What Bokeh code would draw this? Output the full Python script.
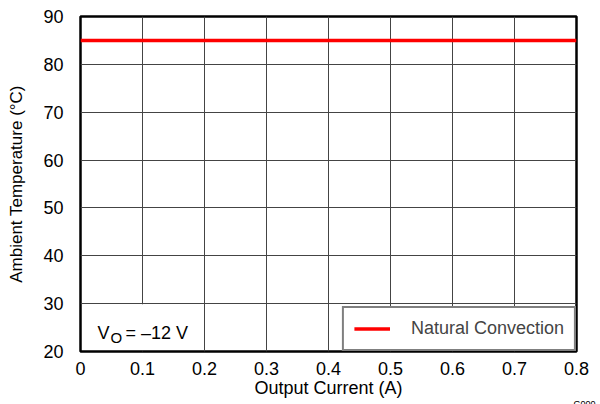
from bokeh.plotting import figure
from bokeh.models import Range1d, FixedTicker, Label, BoxAnnotation, Legend, LegendItem, Title
from bokeh.embed import file_html
from bokeh.resources import INLINE

# Data
current = [0.0, 0.1, 0.2, 0.3, 0.4, 0.5, 0.6, 0.7, 0.8]
temp_natural = [85, 85, 85, 85, 85, 85, 85, 85, 85]
x_ticks = [0, 0.1, 0.2, 0.3, 0.4, 0.5, 0.6, 0.7, 0.8]
x_tick_labels = {0: "0", 0.1: "0.1", 0.2: "0.2", 0.3: "0.3", 0.4: "0.4",
                 0.5: "0.5", 0.6: "0.6", 0.7: "0.7", 0.8: "0.8"}
y_ticks = [20, 30, 40, 50, 60, 70, 80, 90]
series_name = "Natural Convection"

FONT = "Liberation Sans"

p = figure(width=600, height=404, output_backend="svg", toolbar_location=None,
           x_range=Range1d(0, 0.8), y_range=Range1d(20, 90),
           min_border_left=80, min_border_right=24, min_border_top=16, min_border_bottom=53)

p.outline_line_color = "black"
p.outline_line_width = 2.5

for ax in (p.xaxis[0], p.yaxis[0]):
    ax.axis_line_color = None
    ax.major_tick_line_color = None
    ax.minor_tick_line_color = None
    ax.major_label_text_font = FONT
    ax.major_label_text_font_size = "18px"
    ax.major_label_text_color = "black"
    ax.axis_label_text_font = FONT
    ax.axis_label_text_font_style = "normal"
    ax.axis_label_text_color = "black"

p.xaxis.axis_label_text_font_size = "18px"
p.yaxis.axis_label_text_font_size = "17px"
p.xaxis.ticker = FixedTicker(ticks=x_ticks)
p.xaxis.major_label_overrides = x_tick_labels
p.yaxis.ticker = FixedTicker(ticks=y_ticks)
p.xaxis.axis_label = "Output Current (A)"
p.yaxis.axis_label = "Ambient Temperature (°C)"
p.xaxis.major_label_standoff = 4
p.yaxis.major_label_standoff = 11
p.xaxis.axis_label_standoff = 0
p.yaxis.axis_label_standoff = 14

p.xgrid.grid_line_color = "#444444"
p.ygrid.grid_line_color = "#444444"
p.xgrid.grid_line_width = 1
p.ygrid.grid_line_width = 1

r = p.line(current, temp_natural, line_color="#ff0000", line_width=3.5)

# white box behind annotation
p.add_layout(BoxAnnotation(left=0.003, right=0.185, bottom=20.3, top=29.85,
                           fill_color="white", fill_alpha=1, line_color=None))

p.add_layout(Label(x=0.0274, y=23.83, text="V", text_font=FONT, text_font_size="18px",
                   text_baseline="alphabetic", text_color="black"))
p.add_layout(Label(x=0.0484, y=22.93, text="O", text_font=FONT, text_font_size="15px",
                   text_baseline="alphabetic", text_color="black"))
p.add_layout(Label(x=0.0726, y=23.83, text="= \u201312 V", text_font=FONT, text_font_size="18px",
                   text_baseline="alphabetic", text_color="black"))

legend = Legend(items=[LegendItem(label=series_name, renderers=[r])],
                location="bottom_right", margin=0, padding=10, spacing=0,
                glyph_width=36, glyph_height=19, label_height=19, label_standoff=21,
                label_text_font=FONT, label_text_font_size="18px",
                label_text_baseline="middle",
                border_line_color="black", border_line_width=2.5,
                background_fill_color="white", background_fill_alpha=1)
p.add_layout(legend)

p.add_layout(Title(text="G000", align="right", text_font=FONT, text_font_size="9px",
                   text_font_style="normal", text_color="black",
                   standoff=-16, offset=-19), "below")

open("out.html", "w").write(file_html(p, INLINE))
